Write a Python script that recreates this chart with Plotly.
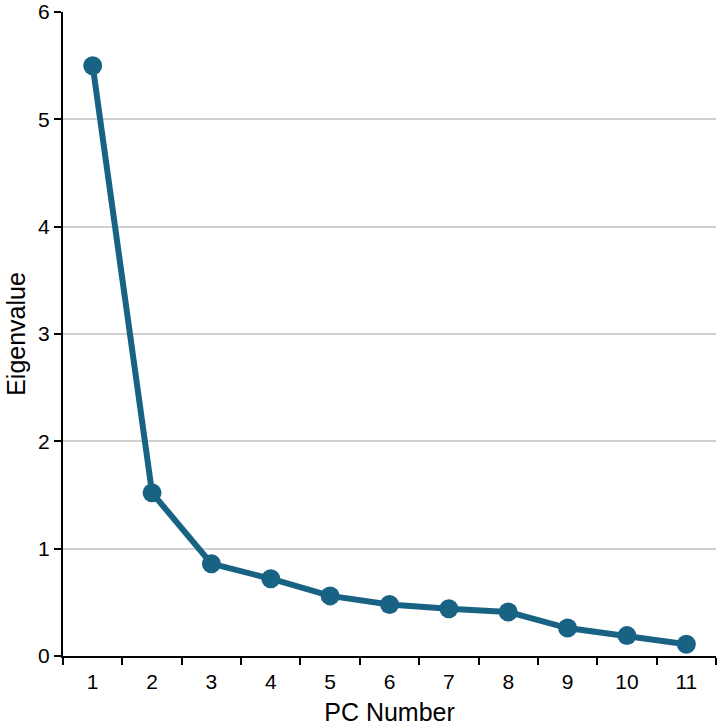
import plotly.graph_objects as go

pc_numbers = ["1", "2", "3", "4", "5", "6", "7", "8", "9", "10", "11"]
eigenvalues = [5.50, 1.52, 0.86, 0.72, 0.56, 0.48, 0.44, 0.41, 0.26, 0.19, 0.11]
y_ticks = [0, 1, 2, 3, 4, 5, 6]

color = "#186283"

fig = go.Figure(go.Scatter(
    x=pc_numbers, y=eigenvalues, mode="lines+markers",
    line=dict(color=color, width=6),
    marker=dict(color=color, size=19),
    showlegend=False,
))

fig.update_layout(
    width=718, height=726,
    margin=dict(l=63, r=2, t=12, b=70, autoexpand=False),
    paper_bgcolor="white", plot_bgcolor="white",
    font=dict(family="Liberation Sans, Arial, sans-serif", size=21, color="black"),
)
fig.update_xaxes(
    type="category", categoryorder="array", categoryarray=pc_numbers,
    range=[-0.5, 10.5],
    ticks="outside", tickson="boundaries", ticklen=7, tickwidth=2, tickcolor="black",
    showline=True, linecolor="black", linewidth=2,
    showgrid=False, zeroline=False,
    ticklabelstandoff=6,
    title=dict(text="PC Number", font=dict(size=25), standoff=13),
    tickfont=dict(size=21),
    automargin=False,
)
fig.update_yaxes(
    range=[0, 6], tickvals=y_ticks,
    ticks="outside", ticklen=7, tickwidth=2, tickcolor="black",
    showline=True, linecolor="black", linewidth=2,
    showgrid=True, gridcolor="#d0d0d0", gridwidth=2,
    zeroline=False,
    ticksuffix="\u00a0",
    ticklabeloverflow="allow",
    title=dict(text="Eigenvalue", font=dict(size=25), standoff=5),
    tickfont=dict(size=21),
    automargin=False,
)

fig.write_html("out.html")
